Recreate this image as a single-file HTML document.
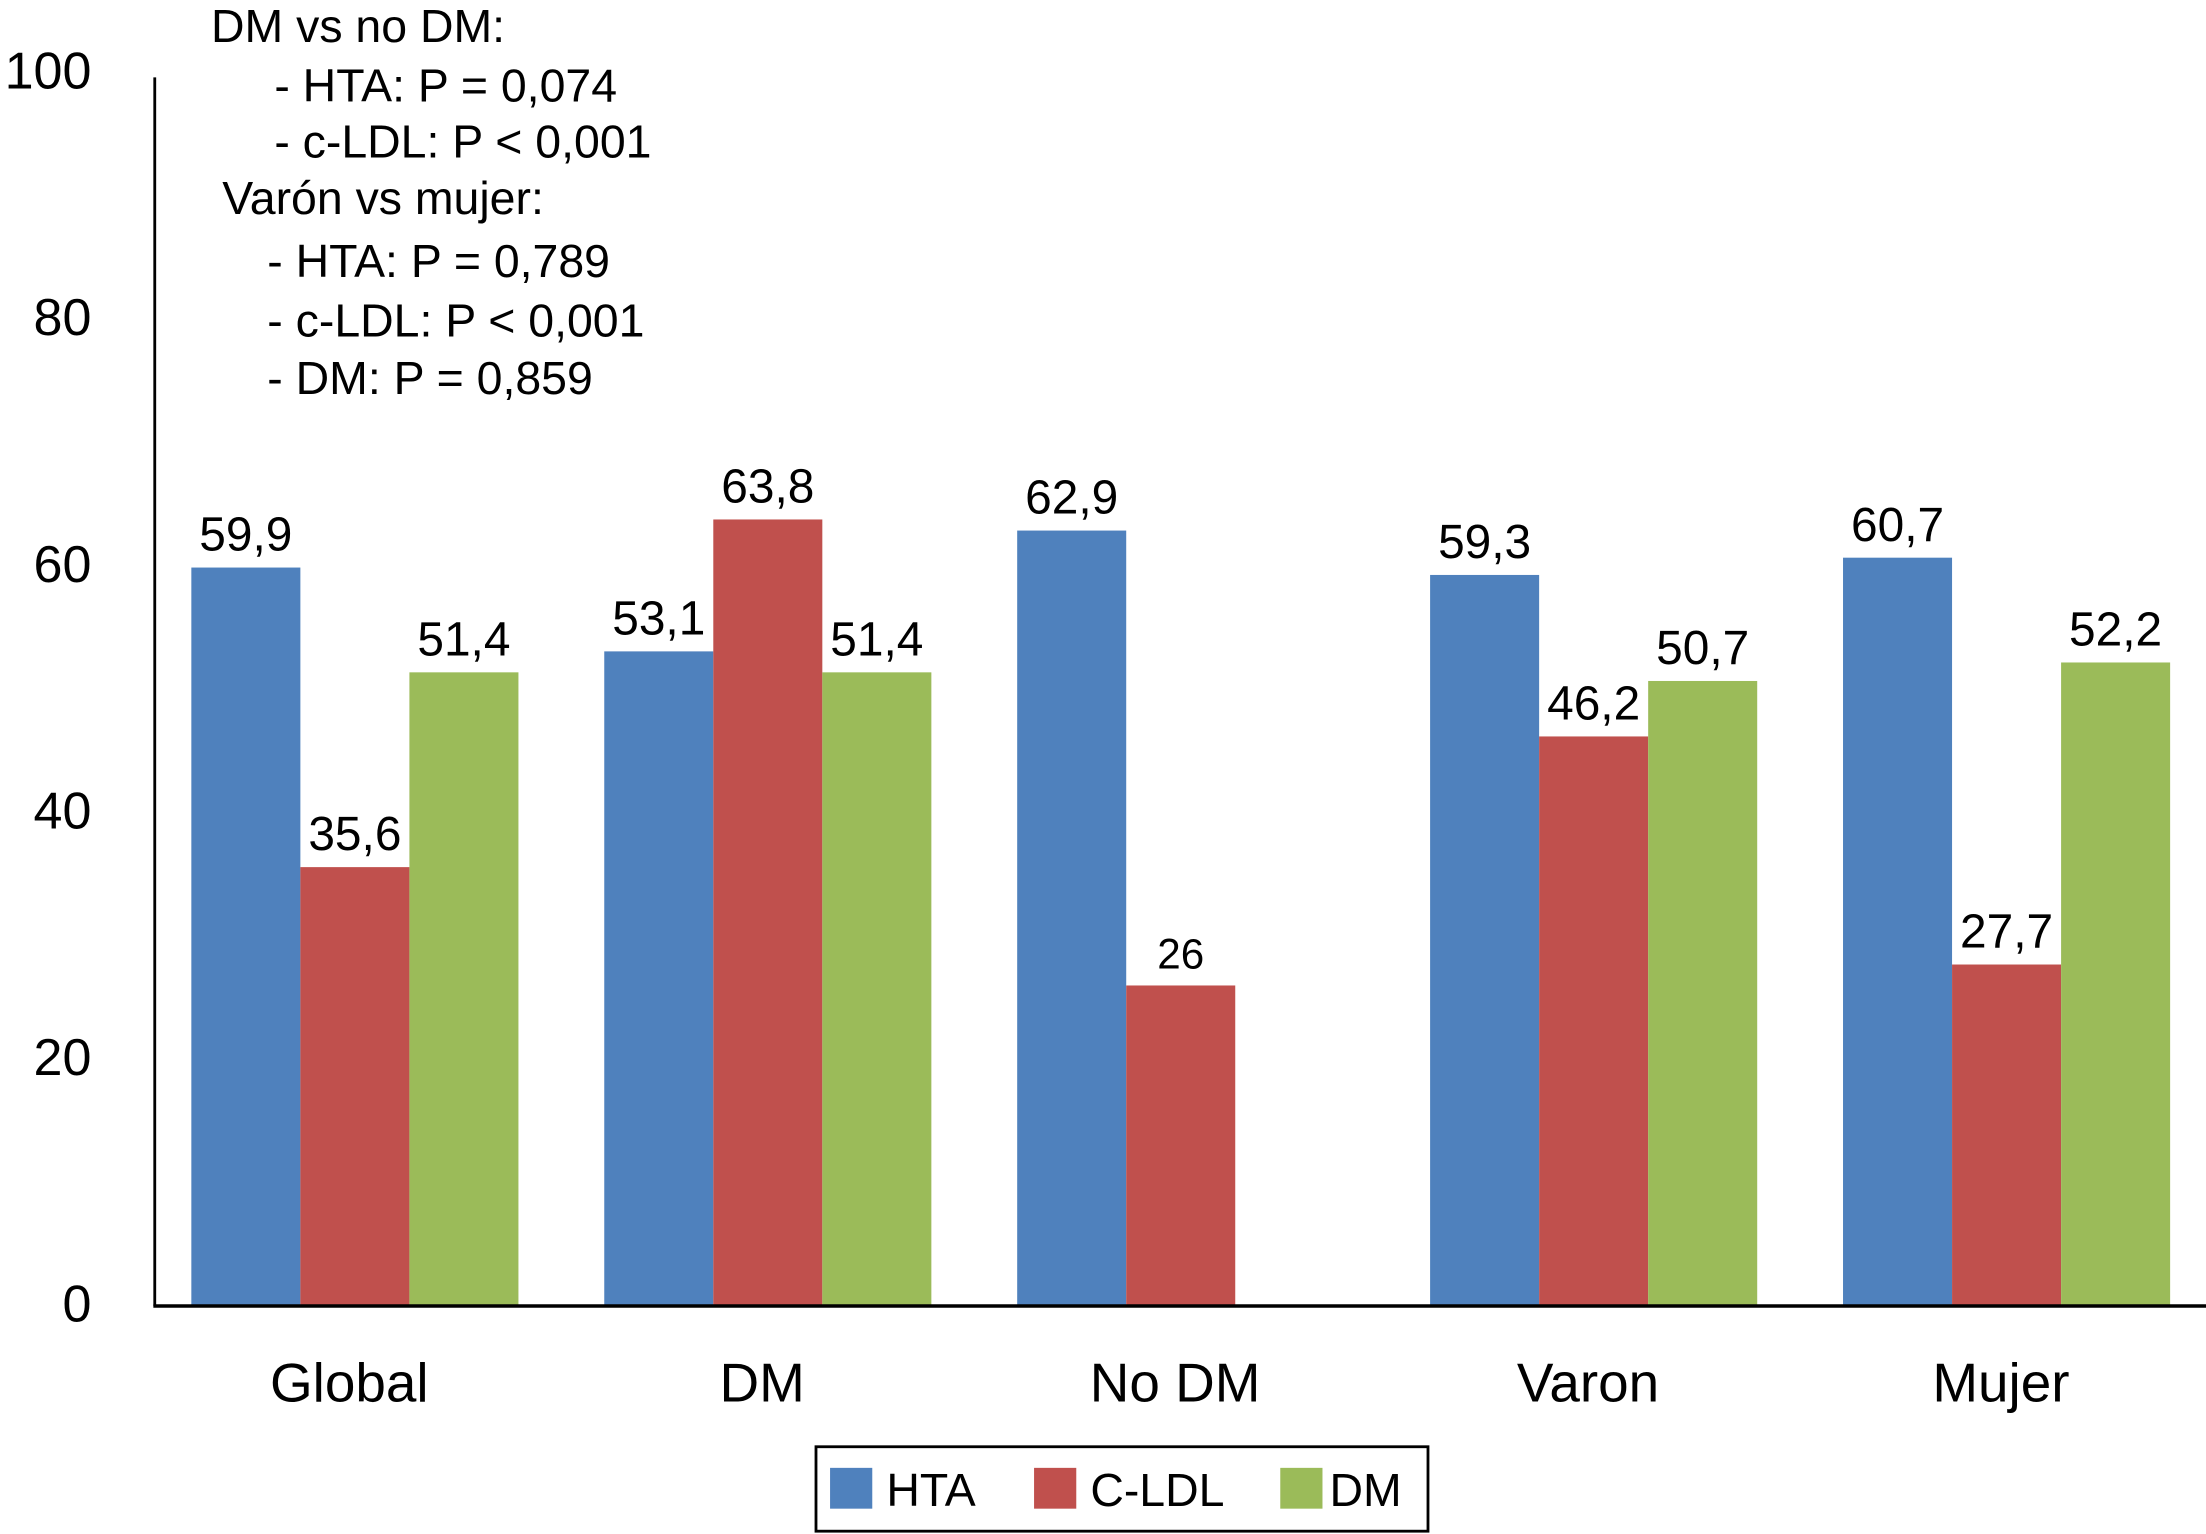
<!DOCTYPE html>
<html><head><meta charset="utf-8"><style>
html,body{margin:0;padding:0;background:#fff;}
svg{display:block;}
text{font-family:"Liberation Sans",Arial,sans-serif;fill:#000;}
</style></head><body>
<svg id="chart" width="2206" height="1534" viewBox="0 0 1568 1090" preserveAspectRatio="none" xmlns="http://www.w3.org/2000/svg">
<g id="annot" font-size="33">
<text x="150" y="30">DM vs no DM:</text>
<text x="195" y="72">- HTA: P = 0,074</text>
<text x="195" y="112">- c-LDL: P &lt; 0,001</text>
<text x="158" y="152">Varón vs mujer:</text>
<text x="190" y="197">- HTA: P = 0,789</text>
<text x="190" y="239">- c-LDL: P &lt; 0,001</text>
<text x="190" y="280">- DM: P = 0,859</text>
</g>
<g id="legend">
<rect x="580" y="1028" width="435" height="60" fill="#fff" stroke="#000" stroke-width="2"/>
<g><rect x="590" y="1043" width="30" height="29" fill="#4f81bd"/><text x="630" y="1070" font-size="33">HTA</text></g>
<g><rect x="735" y="1043" width="30" height="29" fill="#c0504d"/><text x="775" y="1070" font-size="33">C-LDL</text></g>
<g><rect x="910" y="1043" width="30" height="29" fill="#9bbb59"/><text x="945" y="1070" font-size="33">DM</text></g>
</g>
</svg>
<script>
const categories = ["Global","DM","No DM","Varon","Mujer"];
const seriesNames = ["HTA","C-LDL","DM"];
const htaValues = [59.9,53.1,62.9,59.3,60.7];
const cldlValues = [35.6,63.8,26,46.2,27.7];
const dmValues = [51.4,51.4,null,50.7,52.2];
const htaLabels = ["59,9","53,1","62,9","59,3","60,7"];
const cldlLabels = ["35,6","63,8","26","46,2","27,7"];
const dmLabels = ["51,4","51,4","","50,7","52,2"];
const yTicks = [0,20,40,60,80,100];

const NS="http://www.w3.org/2000/svg";
const svg=document.getElementById('chart');
const y0=928, pxPerUnit=8.76;
function yScale(v){return y0-v*pxPerUnit;}
const groupStart=136, groupStep=293.5, barW=77.5;
function xScale(ci,si){return groupStart+ci*groupStep+si*barW;}
function mk(tag,attrs){const e=document.createElementNS(NS,tag);for(const k in attrs)e.setAttribute(k,attrs[k]);svg.appendChild(e);return e;}

const colors=["#4f81bd","#c0504d","#9bbb59"];
const series=[htaValues,cldlValues,dmValues];
const labels=[htaLabels,cldlLabels,dmLabels];
for(let s=0;s<3;s++){
  for(let c=0;c<categories.length;c++){
    const v=series[s][c];
    if(v===null||v===undefined) continue;
    const r=mk('rect',{x:xScale(c,s),y:yScale(v),width:barW,height:v*pxPerUnit,fill:colors[s]});
    
    
    const t=mk('text',{x:xScale(c,s)+barW/2,y:yScale(v)-12,'text-anchor':'middle','font-size':(labels[s][c].length<=2?30:34)});
    t.textContent=labels[s][c];
    
    
  }
}
const ya=mk('line',{x1:110,y1:55,x2:110,y2:y0,stroke:'#000','stroke-width':2});


const xa=mk('line',{x1:109,y1:y0,x2:1568,y2:y0,stroke:'#000','stroke-width':2.5});


for(const v of yTicks){
  const t=mk('text',{x:65,y:yScale(v)+11,'text-anchor':'end','font-size':37});
  t.textContent=String(v);
  
  
}
for(let c=0;c<categories.length;c++){
  const t=mk('text',{x:xScale(c,0)+barW*1.5-4,y:996,'text-anchor':'middle','font-size':39});
  t.textContent=categories[c];
  
  
}
</script>
</body></html>
